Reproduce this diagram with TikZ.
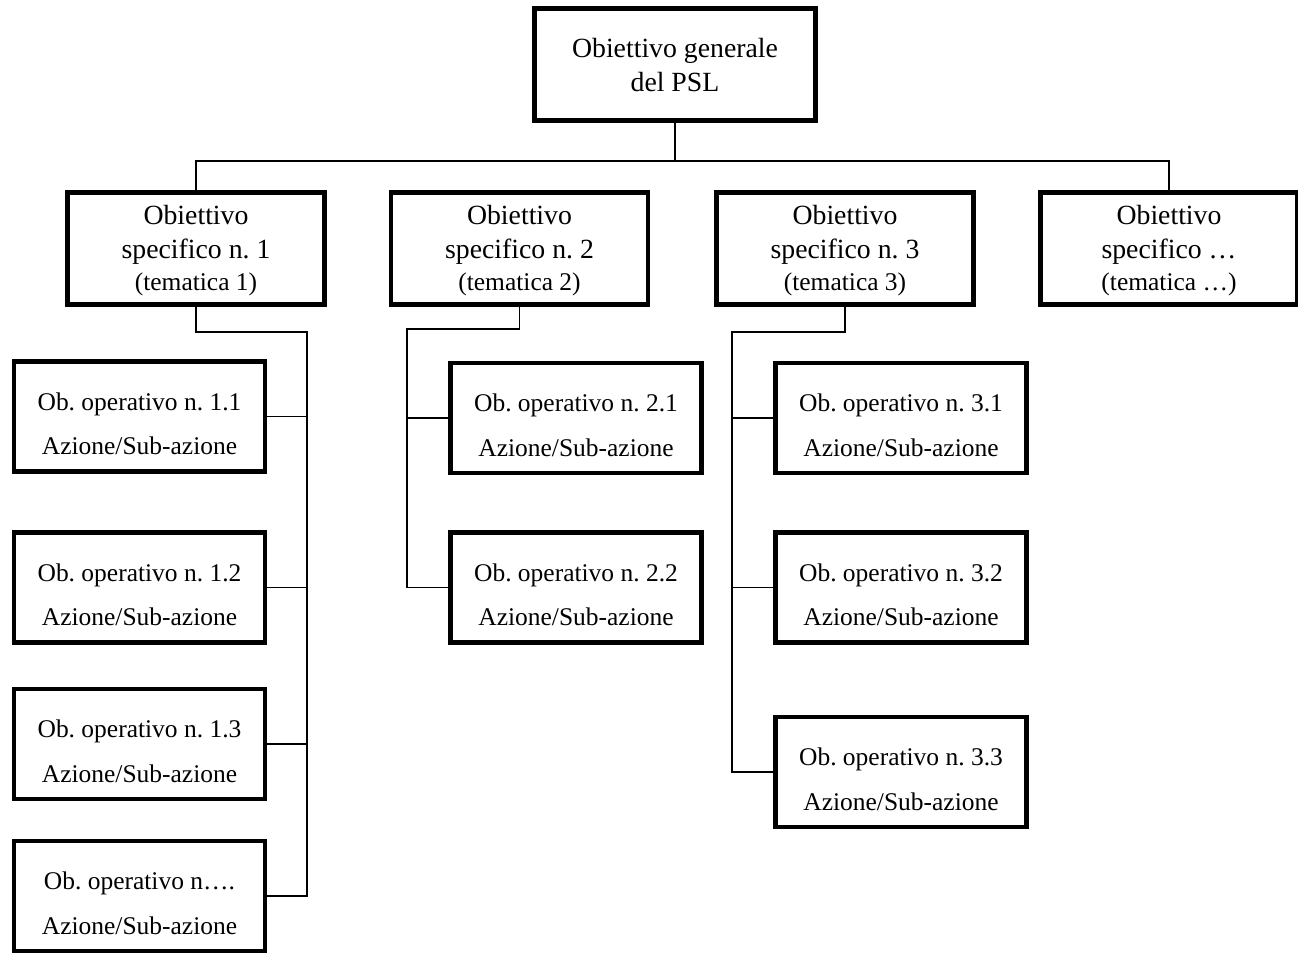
\documentclass[tikz,border=0pt]{standalone}
\usepackage{fontspec}
\setmainfont{Liberation Serif}
\frenchspacing

\tikzstyle{general-box}=[rectangle, draw, line width=2.7pt, align=center,
                         minimum width=5.62cm, minimum height=2.24cm,
                         font=\fontsize{15.8pt}{19.3pt}\selectfont,
                         text height=31.2pt, text depth=0pt]
\tikzstyle{specific-box}=[rectangle, draw, line width=2.7pt, align=center,
                          minimum width=5.14cm, minimum height=2.24cm,
                          font=\fontsize{15.8pt}{19.3pt}\selectfont,
                          text height=48.2pt, text depth=0pt]
\tikzstyle{operative-box}=[rectangle, draw, line width=2.7pt, align=center,
                           minimum width=5.02cm, minimum height=2.2cm,
                           font=\fontsize{14.5pt}{25.5pt}\selectfont,
                           text height=43.65pt, text depth=0pt]
\tikzstyle{tree-edge} = [draw, line width=0.8pt, -]
\newcommand{\tema}[1]{\fontsize{14.5pt}{19.3pt}\selectfont #1}

\begin{document}
\begin{tikzpicture}[x=0.02cm, y=-0.02cm]
    \useasboundingbox (0,0) rectangle (1298,955);
    % First we draw the boxes
    \node[general-box] (G) at (675,64.5) {Obiettivo generale\\del PSL};
    \foreach \pos/\name/\idx/\tag in {{(196,248.5)/S_1/n. 1/1}, {(519.5,248.5)/S_2/n. 2/2},
        {(845,248.5)/S_3/n. 3/3}, {(1169,248.5)/S_4/…/…}}
      \node[specific-box] (\name) at \pos {Obiettivo\\specifico \idx\\[-1.1pt]\tema{(tematica \tag)}};
    \foreach \pos/\name/\idx in {{(139.5,416.5)/O_11/n. 1.1}, {(139.5,587.5)/O_12/n. 1.2},
        {(139.5,744)/O_13/n. 1.3}, {(139.5,896)/O_1n/n….},
        {(576,418)/O_21/n. 2.1}, {(576,587.5)/O_22/n. 2.2},
        {(901,418)/O_31/n. 3.1}, {(901,587.5)/O_32/n. 3.2}, {(901,772)/O_33/n. 3.3}}
      \node[operative-box] (\name) at \pos {Ob. operativo \idx\\Azione/Sub-azione};
    % Then the corners where the lines turn
    \coordinate (bar) at (675,161);
    \coordinate (c_1) at (307,332);
    \coordinate (c_2) at (407,329);
    \coordinate (c_3) at (732,332);
    % Connect the boxes
    \path[tree-edge] (G) -- (bar);
    \path[tree-edge] (S_1) |- (bar) -| (S_4);
    \foreach \source/\corner/\dest in {S_1/c_1/O_1n, S_2/c_2/O_22, S_3/c_3/O_33}
      \path[tree-edge] (\source) |- (\corner) |- (\dest);
    \foreach \source/\corner in {O_11/c_1, O_12/c_1, O_13/c_1, O_21/c_2, O_31/c_3, O_32/c_3}
      \path[tree-edge] (\source) -- (\source -| \corner);
\end{tikzpicture}
\end{document}
